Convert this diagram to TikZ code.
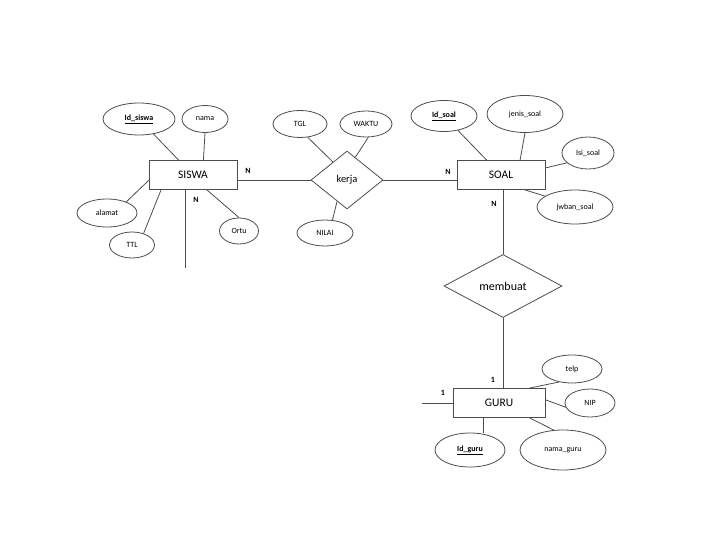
\documentclass[tikz,border=0pt]{standalone}
\usepackage{fontspec}
\setmainfont{Carlito}
\usepackage{tikz}
\usetikzlibrary{shapes.geometric}

\begin{document}
\begin{tikzpicture}[
  x=1pt,y=-1pt,
  line width=0.8pt,
  conn/.style={draw=black!70},
  entity/.style={draw=black!70,rectangle,minimum width=88pt,minimum height=29pt,inner sep=0pt,font=\fontsize{11.5}{12}\selectfont},
  attr/.style={draw=black!70,ellipse,inner sep=0pt,font=\fontsize{8}{9}\selectfont},
  key/.style={attr,font=\fontsize{8}{9}\selectfont\bfseries},
  rel/.style={draw=black!70,diamond,inner sep=0pt},
  card/.style={font=\fontsize{8}{9}\selectfont\bfseries}
]
\useasboundingbox (0,0) rectangle (720,540);

% entitas
\node[entity] (siswa) at (193,175) {SISWA};
\node[entity] (soal) at (501,175) {SOAL};
\node[entity,minimum width=92pt] (guru) at (499,403) {GURU};

% relasi
\node[rel,minimum width=72pt,minimum height=58pt,font=\fontsize{10.5}{11}\selectfont] (kerja) at (347,180) {kerja};
\node[rel,minimum width=118pt,minimum height=63pt,font=\fontsize{12}{13}\selectfont] (membuat) at (503,286) {membuat};

% atribut siswa
\node[key,minimum width=72pt,minimum height=32pt] (idsiswa) at (139,119) {\underline{Id\_siswa}};
\node[attr,minimum width=46pt,minimum height=27pt] (nama) at (205,119) {nama};
\node[attr,minimum width=60pt,minimum height=28pt] (alamat) at (107,213) {alamat};
\node[attr,minimum width=45pt,minimum height=26pt] (ttl) at (132,245) {TTL};
\node[attr,minimum width=39pt,minimum height=26pt] (ortu) at (239,231) {Ortu};
\coordinate (siswaend) at (185,268);

% atribut kerja
\node[attr,minimum width=54pt,minimum height=27pt] (tgl) at (300,124) {TGL};
\node[attr,minimum width=52pt,minimum height=26pt] (waktu) at (366,124) {WAKTU};
\node[attr,minimum width=56pt,minimum height=26pt] (nilai) at (325,233) {NILAI};

% atribut soal
\node[key,minimum width=66pt,minimum height=31pt] (idsoal) at (444,116) {\underline{Id\_soal}};
\node[attr,minimum width=76pt,minimum height=37pt] (jenissoal) at (525,114) {jenis\_soal};
\node[attr,minimum width=52pt,minimum height=32pt] (isisoal) at (588,153) {Isi\_soal};
\node[attr,minimum width=76pt,minimum height=34pt] (jwbansoal) at (575,207) {jwban\_soal};

% atribut guru
\node[attr,minimum width=60pt,minimum height=28pt] (telp) at (572,369) {telp};
\node[attr,minimum width=50pt,minimum height=28pt] (nip) at (590,403) {NIP};
\node[key,minimum width=70pt,minimum height=34pt] (idguru) at (470,450) {\underline{Id\_guru}};
\node[attr,minimum width=86pt,minimum height=40pt] (namaguru) at (563,450) {nama\_guru};
\coordinate (guruend) at (422,403);

% garis
\draw[conn] (idsiswa) -- (siswa);
\draw[conn] (nama.south) -- (siswa.55);
\draw[conn] (alamat.30) -- (siswa.187);
\draw[conn] (ttl.45) -- (siswa.205);
\draw[conn] (siswa.-47) -- (ortu.north);
\draw[conn] (siswaend |- siswa.south) -- (siswaend);
\draw[conn] (siswa.east |- kerja) -- (kerja);
\draw[conn] (kerja) -- (soal.west |- kerja);
\draw[conn] (tgl.-60) -- (kerja.128);
\draw[conn] (waktu.-80) -- (kerja.70);
\draw[conn] (nilai.60) -- (kerja.-115);
\draw[conn] (idsoal) -- (soal);
\draw[conn] (jenissoal.south) -- (soal.38);
\draw[conn] (soal.9) -- (isisoal.205);
\draw[conn] (soal.-32) -- (jwbansoal.160);
\draw[conn] (soal.south -| membuat) -- (membuat.north);
\draw[conn] (membuat.south) -- (guru.north -| membuat);
\draw[conn] (guru.26) -- (telp.225);
\draw[conn] (guru.4) -- (nip.190);
\draw[conn] (guru.223) -- (guru.223 |- idguru.north);
\draw[conn] (guru.-26) -- (namaguru.115);
\draw[conn] (guruend) -- (guru.west);

% kardinalitas
\node[card] (n1) at (248,171) {N};
\node[card] (n2) at (196,200) {N};
\node[card] (n3) at (448,172) {N};
\node[card] (n4) at (494,204) {N};
\node[card] (c1) at (493,380) {1};
\node[card] (c2) at (443,393) {1};
\end{tikzpicture}
\end{document}
